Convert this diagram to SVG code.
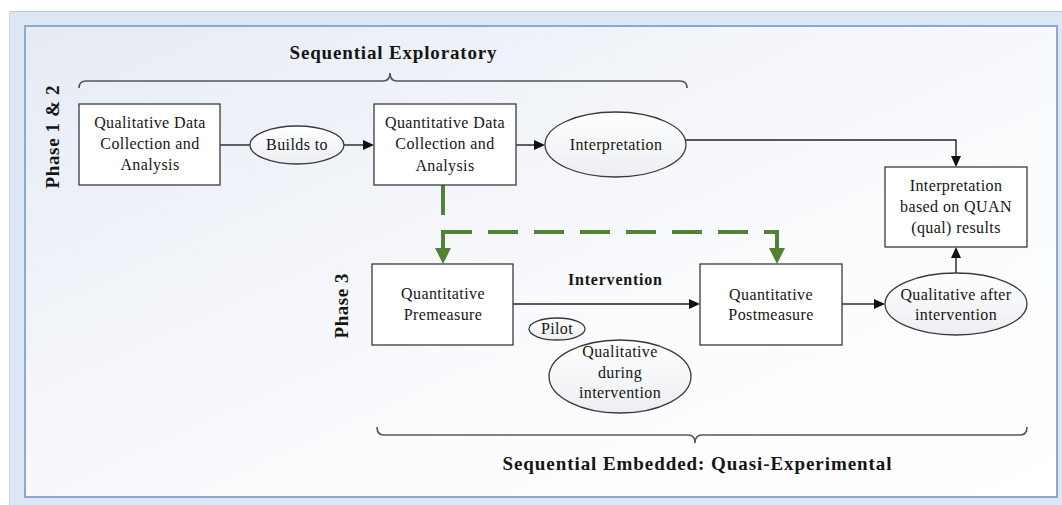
<svg xmlns="http://www.w3.org/2000/svg" width="1062" height="505" viewBox="0 0 1062 505">
<defs>
<linearGradient id="bg" x1="0" y1="0" x2="1" y2="1">
<stop offset="0" stop-color="#e6ebf4"/>
<stop offset="0.6" stop-color="#fafbfd"/>
<stop offset="1" stop-color="#ffffff"/>
</linearGradient>
<linearGradient id="ell" x1="0" y1="0" x2="0" y2="1">
<stop offset="0" stop-color="#ffffff"/>
<stop offset="1" stop-color="#eceef2"/>
</linearGradient>
<marker id="arr" markerUnits="userSpaceOnUse" markerWidth="12" markerHeight="12" viewBox="0 -6 12 12" refX="0" refY="0" orient="auto">
<path d="M0,-5 L11,0 L0,5 z" fill="#111"/>
</marker>
<marker id="garr" markerUnits="userSpaceOnUse" markerWidth="18" markerHeight="18" viewBox="0 -9 18 18" refX="0" refY="0" orient="auto">
<path d="M0,-8 L16,0 L0,8 z" fill="#548235"/>
</marker>
<style>
.box{fill:#fff;stroke:#3a3a3a;stroke-width:1.3}
.ell{fill:url(#ell);stroke:#3a3a3a;stroke-width:1.3}
.t{font-family:"Liberation Serif","Times New Roman",serif;font-size:16px;fill:#151515;text-anchor:middle;letter-spacing:0.4px}
.b{font-family:"Liberation Serif","Times New Roman",serif;font-weight:bold;fill:#151515;text-anchor:middle}
.c{fill:none;stroke:#222;stroke-width:1.4}
.g{fill:none;stroke:#548235;stroke-width:4}
.brace{fill:none;stroke:#555;stroke-width:1.6}
</style>
</defs>
<rect x="0" y="0" width="1062" height="505" fill="#ffffff"/>
<rect x="9" y="11" width="1053" height="494" fill="#dce7f3"/>
<line x1="9" y1="11.5" x2="1062" y2="11.5" stroke="#c9c9c9" stroke-width="1"/>
<line x1="9.5" y1="11" x2="9.5" y2="505" stroke="#d0d8e2" stroke-width="1"/>
<rect x="25" y="26" width="1032" height="471" fill="url(#bg)" stroke="#8ea8d4" stroke-width="2"/>

<g id="labels">
<text class="b" x="393" y="59" font-size="19" textLength="207" lengthAdjust="spacing">Sequential Exploratory</text>
<text class="b" x="697" y="470" font-size="19" textLength="389" lengthAdjust="spacing">Sequential Embedded: Quasi-Experimental</text>
<text class="b" font-size="19" transform="translate(59,137) rotate(-90)" textLength="103" lengthAdjust="spacing">Phase 1 &amp; 2</text>
<text class="b" font-size="19" transform="translate(348,306) rotate(-90)" textLength="65" lengthAdjust="spacing">Phase 3</text>
<text class="b" x="615" y="285" font-size="16" textLength="94" lengthAdjust="spacing">Intervention</text>
</g>

<g id="braces">
<path class="brace" d="M79,88 Q79,81 86,81 H383 Q390,81 390,73 Q390,81 397,81 H680 Q687,81 687,88"/>
<path class="brace" d="M377,427 Q377,435 384,435 H688 Q695,435 695,443 Q695,435 702,435 H1020 Q1027,435 1027,427"/>
</g>

<g id="connectors">
<line class="c" x1="220" y1="145" x2="250" y2="145"/>
<line class="c" x1="344" y1="145" x2="363" y2="145" marker-end="url(#arr)"/>
<line class="c" x1="516" y1="145" x2="534" y2="145" marker-end="url(#arr)"/>
<path class="c" d="M685,140 H956 V156" marker-end="url(#arr)"/>
<line class="c" x1="513" y1="304" x2="689" y2="304" marker-end="url(#arr)"/>
<line class="c" x1="842" y1="304" x2="874" y2="304" marker-end="url(#arr)"/>
<line class="c" x1="956" y1="273" x2="956" y2="258" marker-end="url(#arr)"/>
<path class="g" d="M443,185 V232 H777 V248" stroke-dasharray="30 16" marker-end="url(#garr)"/>
<path class="g" d="M443,230 V248" marker-end="url(#garr)"/>
</g>

<g id="qual-data">
<rect class="box" x="79" y="104" width="141" height="81"/>
<text class="t" x="150" y="128">Qualitative Data</text>
<text class="t" x="150" y="149">Collection and</text>
<text class="t" x="150" y="170">Analysis</text>
</g>
<g id="builds-to">
<ellipse class="ell" cx="297" cy="145" rx="47" ry="19"/>
<text class="t" x="297" y="150">Builds to</text>
</g>
<g id="quan-data">
<rect class="box" x="374" y="104" width="142" height="81"/>
<text class="t" x="445" y="128">Quantitative Data</text>
<text class="t" x="445" y="149">Collection and</text>
<text class="t" x="445" y="171">Analysis</text>
</g>
<g id="interpretation">
<ellipse class="ell" cx="615.5" cy="144.5" rx="70.5" ry="32.5"/>
<text class="t" x="616" y="150">Interpretation</text>
</g>
<g id="final">
<rect class="box" x="885" y="167" width="142" height="80"/>
<text class="t" x="956" y="191">Interpretation</text>
<text class="t" x="956" y="212">based on QUAN</text>
<text class="t" x="956" y="233">(qual) results</text>
</g>
<g id="premeasure">
<rect class="box" x="372" y="264" width="141" height="81"/>
<text class="t" x="443" y="299">Quantitative</text>
<text class="t" x="443" y="320">Premeasure</text>
</g>
<g id="postmeasure">
<rect class="box" x="700" y="264" width="142" height="81"/>
<text class="t" x="771" y="300">Quantitative</text>
<text class="t" x="771" y="320">Postmeasure</text>
</g>
<g id="qual-after">
<ellipse class="ell" cx="956" cy="304" rx="71" ry="31"/>
<text class="t" x="956" y="300">Qualitative after</text>
<text class="t" x="956" y="320">intervention</text>
</g>
<g id="qual-during">
<ellipse class="ell" cx="620" cy="376.5" rx="71" ry="36.5"/>
<text class="t" x="620" y="357">Qualitative</text>
<text class="t" x="620" y="378">during</text>
<text class="t" x="620" y="398">intervention</text>
</g>
<g id="pilot">
<ellipse class="ell" cx="557" cy="329" rx="28" ry="11"/>
<text class="t" x="557" y="334">Pilot</text>
</g>
</svg>
